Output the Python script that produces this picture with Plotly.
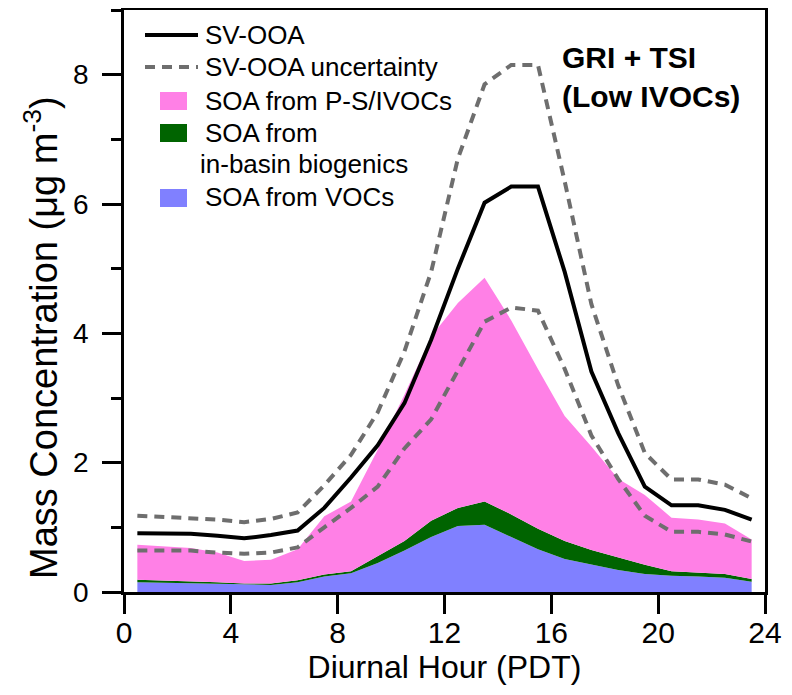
import plotly.graph_objects as go

# ---------------- data ----------------
hours = [0.5, 1.5, 2.5, 3.5, 4.5, 5.5, 6.5, 7.5, 8.5, 9.5, 10.5, 11.5,
         12.5, 13.5, 14.5, 15.5, 16.5, 17.5, 18.5, 19.5, 20.5, 21.5, 22.5, 23.5]

sv_ooa = [0.91, 0.90, 0.90, 0.87, 0.83, 0.88, 0.95, 1.30, 1.77, 2.27, 2.92, 3.90,
          5.00, 6.02, 6.27, 6.27, 4.95, 3.41, 2.46, 1.63, 1.34, 1.34, 1.27, 1.12]

sv_ooa_upper = [1.18, 1.16, 1.15, 1.12, 1.08, 1.13, 1.23, 1.65, 2.12, 2.78, 3.72, 4.95,
                6.70, 7.85, 8.15, 8.15, 6.35, 4.45, 3.20, 2.15, 1.74, 1.74, 1.66, 1.45]

sv_ooa_lower = [0.64, 0.64, 0.64, 0.61, 0.59, 0.61, 0.69, 1.00, 1.30, 1.63, 2.22, 2.67,
                3.42, 4.18, 4.40, 4.35, 3.45, 2.42, 1.75, 1.18, 0.93, 0.93, 0.89, 0.78]

soa_vocs = [0.15, 0.14, 0.14, 0.12, 0.11, 0.11, 0.15, 0.24, 0.29, 0.45, 0.64, 0.85,
            1.02, 1.04, 0.85, 0.66, 0.51, 0.42, 0.34, 0.28, 0.25, 0.24, 0.22, 0.16]

soa_biogenic = [0.04, 0.04, 0.03, 0.03, 0.02, 0.02, 0.03, 0.03, 0.03, 0.10, 0.15, 0.25,
                0.28, 0.36, 0.35, 0.32, 0.28, 0.23, 0.19, 0.14, 0.07, 0.06, 0.06, 0.04]

soa_psivocs = [0.54, 0.52, 0.51, 0.46, 0.35, 0.37, 0.48, 0.90, 1.08, 1.65, 2.26, 2.85,
               3.17, 3.46, 3.00, 2.47, 1.93, 1.60, 1.22, 1.08, 0.83, 0.82, 0.78, 0.61]

x_ticks = [0, 4, 8, 12, 16, 20, 24]
y_ticks = [0, 2, 4, 6, 8]

x_title = "Diurnal Hour (PDT)"
y_title = "Mass Concentration (μg m<sup>-3</sup>)"
legend_labels = ["SV-OOA", "SV-OOA uncertainty", "SOA from P-S/IVOCs",
                 "SOA from", "in-basin biogenics", "SOA from VOCs"]
panel_label = "<b>GRI + TSI</b><br><b>(Low IVOCs)</b>"

# ---------------- styling ----------------
PINK = "#FF80E6"
GREEN = "#006400"
BLUE = "#8080FF"
GRAY = "#6E6E6E"
FONT = "Arial, Liberation Sans, sans-serif"

# the page body adds an 8 px margin, so the figure is placed at (8, 8)
OFF = 8
W, H = 792 - OFF, 695 - 2 * OFF
PLOT_L, PLOT_R, PLOT_T, PLOT_B = 124, 765, 10, 592      # page pixels of the frame
L, T = PLOT_L - OFF, PLOT_T - OFF
R, B = W - (PLOT_R - OFF), H - (PLOT_B - OFF)
PW, PH = PLOT_R - PLOT_L, PLOT_B - PLOT_T


def xp(px):
    return (px - PLOT_L) / PW


def yp(py):
    return (PLOT_B - py) / PH


fig = go.Figure()

# stacked SOA areas
for vals, col in [(soa_vocs, BLUE), (soa_biogenic, GREEN), (soa_psivocs, PINK)]:
    fig.add_trace(go.Scatter(x=hours, y=vals, stackgroup="soa", mode="lines",
                             line=dict(width=0, color=col), fillcolor=col,
                             showlegend=False, hoverinfo="skip"))

# uncertainty lines
for vals in (sv_ooa_upper, sv_ooa_lower):
    fig.add_trace(go.Scatter(x=hours, y=vals, mode="lines",
                             line=dict(color=GRAY, width=4, dash="10px,7px"),
                             showlegend=False, hoverinfo="skip"))

# SV-OOA
fig.add_trace(go.Scatter(x=hours, y=sv_ooa, mode="lines",
                         line=dict(color="black", width=4),
                         showlegend=False, hoverinfo="skip"))

# ---------------- custom legend ----------------
shapes = [
    dict(type="line", xref="paper", yref="paper", x0=xp(145), x1=xp(198), y0=yp(35), y1=yp(35),
         line=dict(color="black", width=4)),
    dict(type="line", xref="paper", yref="paper", x0=xp(145), x1=xp(198), y0=yp(67), y1=yp(67),
         line=dict(color=GRAY, width=4, dash="10px,7px")),
    dict(type="rect", xref="paper", yref="paper", x0=xp(160), x1=xp(187), y0=yp(110), y1=yp(92),
         fillcolor=PINK, line=dict(width=0)),
    dict(type="rect", xref="paper", yref="paper", x0=xp(160), x1=xp(187), y0=yp(142), y1=yp(124),
         fillcolor=GREEN, line=dict(width=0)),
    dict(type="rect", xref="paper", yref="paper", x0=xp(160), x1=xp(187), y0=yp(207), y1=yp(189),
         fillcolor=BLUE, line=dict(width=0)),
]
legend_pos = [(203, 35), (203, 67), (203, 101), (203, 133), (198, 164), (203, 197)]
annotations = []
for text, (lx, ly) in zip(legend_labels, legend_pos):
    annotations.append(dict(text=text, xref="paper", yref="paper", x=xp(lx), y=yp(ly),
                            xanchor="left", yanchor="middle", showarrow=False,
                            font=dict(family=FONT, size=26, color="black")))
annotations.append(dict(text=panel_label, xref="paper", yref="paper", x=xp(560), y=yp(77),
                        xanchor="left", yanchor="middle", align="left", showarrow=False,
                        font=dict(family=FONT, size=30, color="black")))
# y-axis title (placed as in the reference, slightly below the plot centre)
annotations.append(dict(text=y_title, xref="paper", yref="paper", x=xp(41), y=yp(338),
                        xanchor="center", yanchor="middle", textangle=-90, showarrow=False,
                        font=dict(family=FONT, size=38, color="black")))

axis_common = dict(showline=True, linewidth=2.5, linecolor="black", mirror=True,
                   showgrid=False, zeroline=False, ticks="outside", ticklen=19,
                   tickwidth=2.5, tickcolor="black", automargin=False)

fig.update_layout(
    width=W, height=H,
    margin=dict(l=L, r=R, t=T, b=B, pad=0),
    paper_bgcolor="white", plot_bgcolor="white",
    showlegend=False,
    shapes=shapes, annotations=annotations,
    xaxis=dict(range=[0, 24], tickmode="array", tickvals=x_ticks,
               ticktext=[str(v) for v in x_ticks],
               tickfont=dict(family=FONT, size=30, color="black"),
               ticklabelstandoff=-7,
               title=dict(text=x_title, standoff=6,
                          font=dict(family=FONT, size=32, color="black")),
               **axis_common),
    yaxis=dict(range=[0, 9], tickmode="array", tickvals=y_ticks,
               ticktext=[str(v) for v in y_ticks],
               tickfont=dict(family=FONT, size=28, color="black"),
               ticklabelstandoff=8,
               minor=dict(dtick=1, tick0=0, ticks="outside", ticklen=10,
                          tickwidth=2.5, tickcolor="black", showgrid=False),
               **axis_common),
)

fig.write_html("out.html")
